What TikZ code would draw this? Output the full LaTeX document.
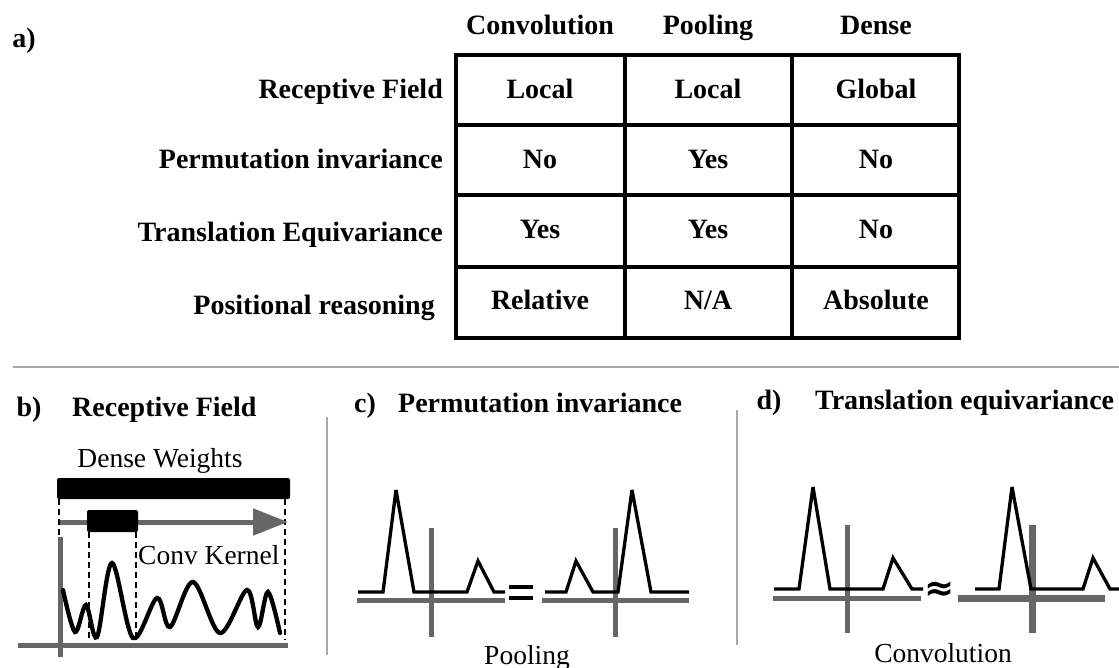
\documentclass[tikz,border=0pt]{standalone}
\usepackage{fontspec}
\setmainfont{Liberation Serif}
\newfontfamily\symfont{DejaVu Sans}
\usetikzlibrary{arrows.meta}
\definecolor{axisgray}{HTML}{666666}
\definecolor{sepgray}{HTML}{A8A8A8}
\tikzset{
  txt/.style={font=\fontsize{28}{30}\selectfont\bfseries, inner sep=0pt, anchor=base},
  lbl/.style={font=\fontsize{27.5}{30}\selectfont, inner sep=0pt, anchor=base},
  grid/.style={line width=4.5pt, black},
  axis/.style={line width=5pt, axisgray},
  sig/.style={line width=3.3pt, black, line join=miter, miter limit=3},
  sep/.style={line width=1.5pt, sepgray},
  dashln/.style={line width=1.2pt, dash pattern=on 6pt off 4pt},
}
\begin{document}
\begin{tikzpicture}[x=1pt,y=-1pt]
\useasboundingbox (0,0) rectangle (1119,668);
% ---------- a) table ----------
\node[txt] (a) at (24,48) {a)};
\node[txt] (h1) at (540,35) {Convolution};
\node[txt] (h2) at (708,35) {Pooling};
\node[txt] (h3) at (876,35) {Dense};
\node[txt, anchor=base east] (r1) at (443,99) {Receptive Field};
\node[txt, anchor=base east] (r2) at (443,169) {Permutation invariance};
\node[txt, anchor=base east] (r3) at (443,242) {Translation Equivariance};
\node[txt, anchor=base east] (r4) at (435,315) {Positional reasoning};
\draw[grid] (456,55) rectangle (959,338);
\draw[grid] (625,55) -- (625,338) (792,55) -- (792,338);
\draw[grid] (456,125) -- (959,125) (456,195) -- (959,195) (456,267) -- (959,267);
\node[txt] (c11) at (540,99) {Local};
\node[txt] (c12) at (708,99) {Local};
\node[txt] (c13) at (876,99) {Global};
\node[txt] (c21) at (540,169) {No};
\node[txt] (c22) at (708,169) {Yes};
\node[txt] (c23) at (876,169) {No};
\node[txt] (c31) at (540,239) {Yes};
\node[txt] (c32) at (708,239) {Yes};
\node[txt] (c33) at (876,239) {No};
\node[txt] (c41) at (540,310) {Relative};
\node[txt] (c42) at (708,310) {N/A};
\node[txt] (c43) at (876,310) {Absolute};
% rule
\draw[line width=1.5pt, sepgray] (13,367) -- (1119,367);
% ---------- b) ----------
\node[txt] (b) at (29,416) {b)};
\node[txt, anchor=base west] (bt) at (72,416) {Receptive Field};
\node[lbl] (dw) at (160,467) {Dense Weights};
\fill[black, rounded corners=2pt] (57,478) rectangle (290,499);
\draw[dashln] (59,499) -- (59,537);
\draw[dashln] (285,499) -- (285,640);
\draw[axisgray, line width=5pt, -{Triangle[length=35pt,width=26pt]}] (60,522) -- (288,522);
\fill[black, rounded corners=2pt] (87,510) rectangle (138,532);
\draw[dashln] (89,532) -- (89,638);
\draw[dashln] (136,532) -- (136,638);
\node[lbl, anchor=base west] (ck) at (138,564) {Conv Kernel};
\draw[axis] (60,537) -- (60,657);
\draw[axis] (18,645) -- (288,645);
\draw[line width=4.3pt, black, line cap=round] plot[smooth, tension=0.55] coordinates {
 (63,590) (75,632) (86,605) (97,637) (112,563) (133,638) (157,598) (170,627)
 (193,582) (220,633) (247,590) (258,627) (268,592) (280,633)};
% separators
\draw[sep] (327,417) -- (327,655);
\draw[sep] (737,410) -- (737,645);
% ---------- c) ----------
\node[txt] (c) at (365,412) {c)};
\node[txt, anchor=base west] (ct) at (398,412) {Permutation invariance};
\draw[axis] (357,600) -- (505,600);
\draw[axis] (431,528) -- (431,637);
\draw[sig] (358,592) -- (383,592) -- (396,490) -- (414,592) -- (467,592) -- (478,561) -- (494,592) -- (505,592);
\draw[line width=4pt, black] (509,587) -- (533,587) (509,598) -- (533,598);
\draw[axis] (542,600) -- (689,600);
\draw[axis] (615,528) -- (615,637);
\draw[sig] (545,592) -- (566,592) -- (576,561) -- (593,592) -- (618,592) -- (632,490) -- (651,592) -- (689,592);
\node[lbl] (pool) at (527,664) {Pooling};
% ---------- d) ----------
\node[txt] (d) at (769,409) {d)};
\node[txt, anchor=base west] (dt) at (815,409) {Translation equivariance};
\draw[axis] (773,598) -- (921,598);
\draw[axis] (847,525) -- (847,633);
\draw[sig] (774,589) -- (799,589) -- (813,487) -- (830,589) -- (883,589) -- (893,558) -- (912,589) -- (923,589);
\node[font=\symfont\bfseries\fontsize{36}{38}\selectfont, inner sep=0pt] (approx) at (940,591) {≈};
\draw[axisgray, line width=7pt] (958,598) -- (1105,598);
\draw[axisgray, line width=7pt] (1032,525) -- (1032,633);
\draw[sig] (975,589) -- (999,589) -- (1012,487) -- (1031,589) -- (1083,589) -- (1093,558) -- (1110,589) -- (1119,589);
\node[lbl] (conv) at (943,662) {Convolution};
\end{tikzpicture}
\end{document}
